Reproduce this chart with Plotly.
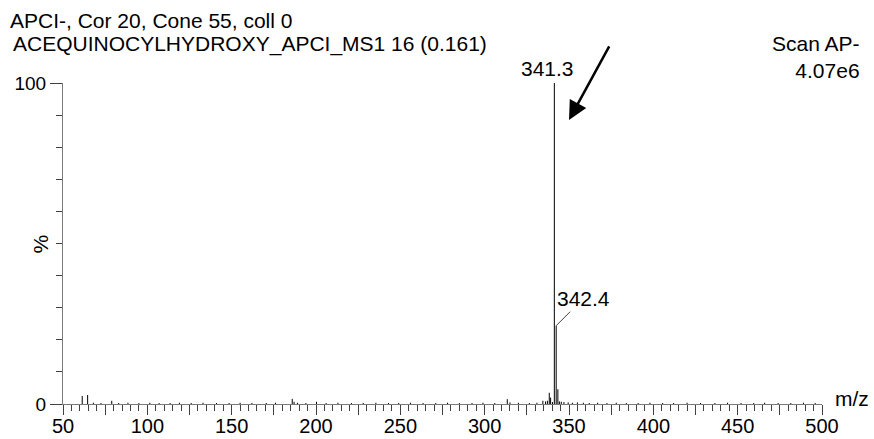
import plotly.graph_objects as go

# Centroided MS1 spectrum (m/z, relative intensity %)
mz = [61.4, 64.6, 68.0, 72.5, 78.9, 83.0, 88.5, 95.0, 101.5, 107.0, 113.5, 119.0,
      126.0, 133.0, 141.0, 148.5, 155.0, 162.0, 170.5, 176.0, 185.9, 187.0, 189.0,
      194.0, 200.3, 206.0, 213.0, 221.0, 228.0, 235.5, 243.0, 249.0, 256.0, 263.5,
      271.0, 278.0, 285.0, 292.5, 299.0, 306.0, 313.4, 315.0, 320.0, 326.5, 331.0,
      334.5, 336.1, 337.2, 338.3, 339.1, 340.2, 341.3, 342.4, 343.4, 344.3, 345.4,
      347.0, 349.5, 352.0, 355.0, 358.5, 362.0, 367.0, 372.5, 378.0, 384.0, 391.0,
      398.0, 405.5, 412.0, 420.0, 428.0, 436.5, 444.0, 452.0, 459.5, 466.0, 474.0,
      481.5, 489.0, 496.0]
intensity = [2.5, 2.8, 0.4, 0.3, 1.0, 0.3, 0.4, 0.3, 0.4, 0.3, 0.3, 0.4,
             0.3, 0.4, 0.3, 0.3, 0.4, 0.3, 0.3, 0.4, 1.6, 0.7, 0.4,
             0.3, 0.7, 0.3, 0.4, 0.3, 0.3, 0.4, 0.3, 0.3, 0.4, 0.3,
             0.3, 0.4, 0.3, 0.3, 0.4, 0.3, 1.5, 0.5, 0.4, 0.3, 0.4,
             1.0, 0.8, 1.0, 3.5, 2.0, 0.6, 100.0, 24.4, 4.6, 0.8, 0.7,
             0.6, 0.5, 0.4, 0.5, 0.4, 0.3, 0.4, 0.3, 0.4, 0.3, 0.3,
             0.4, 0.3, 0.3, 0.4, 0.3, 0.3, 0.4, 0.3, 0.3, 0.4, 0.3,
             0.3, 0.4, 0.3]

labelled_mz = [341.3, 342.4]

x_ticks = list(range(50, 501, 25))
x_ticktext = [str(v) if v % 50 == 0 else "" for v in x_ticks]

FONT = "Liberation Sans, Arial, sans-serif"
TXT = 21

# Build stick segments (one vertical line per centroid)
xs, ys = [], []
for m, h in zip(mz, intensity):
    xs += [m, m, None]
    ys += [0, h, None]

fig = go.Figure()
fig.add_trace(go.Scatter(x=xs, y=ys, mode="lines",
                         line=dict(color="black", width=1),
                         hoverinfo="skip", showlegend=False))

fig.update_layout(
    width=874, height=439,
    margin=dict(l=63, r=52, t=83, b=35, autoexpand=False),
    paper_bgcolor="white", plot_bgcolor="white",
    font=dict(family=FONT, size=TXT, color="black"),
    showlegend=False,
)

fig.update_xaxes(
    range=[50, 500], showgrid=False, zeroline=False, automargin=False,
    showline=True, linecolor="#7a7a7a", linewidth=1,
    tickmode="array", tickvals=x_ticks, ticktext=x_ticktext,
    ticks="outside", ticklen=10, tickwidth=1, tickcolor="#404040",
    minor=dict(tick0=50, dtick=5, ticks="outside", ticklen=6,
               tickwidth=1, tickcolor="#404040", showgrid=False),
    tickfont=dict(size=20, family=FONT),
    ticklabelstandoff=-6,
)
fig.update_yaxes(
    range=[0, 100], showgrid=False, zeroline=False, automargin=False,
    showline=True, linecolor="#7a7a7a", linewidth=1,
    tickmode="array", tickvals=[0, 100], ticktext=["0", "100"],
    ticks="outside", ticklen=12, tickwidth=1, tickcolor="#404040",
    minor=dict(tick0=0, dtick=10, ticks="outside", ticklen=6,
               tickwidth=1, tickcolor="#404040", showgrid=False),
    tickfont=dict(size=19, family=FONT),
)

# Header text
fig.add_annotation(xref="paper", yref="paper", x=-0.072, y=1.195,
                   xanchor="left", yanchor="middle", showarrow=False,
                   text="APCI-, Cor 20, Cone 55, coll 0")
fig.add_annotation(xref="paper", yref="paper", x=-0.069, y=1.123,
                   xanchor="left", yanchor="middle", showarrow=False,
                   text="ACEQUINOCYLHYDROXY_APCI_MS1 16 (0.161)")
fig.add_annotation(xref="paper", yref="paper", x=1.053, y=1.08,
                   xanchor="right", yanchor="middle", align="right",
                   showarrow=False, text="Scan AP-<br>4.07e6")

# Axis titles
fig.add_annotation(xref="paper", yref="paper", x=1.015, y=0.0,
                   xanchor="left", yanchor="middle", yshift=6, showarrow=False,
                   text="m/z")
fig.add_annotation(xref="paper", yref="paper", x=-0.029, y=0.5,
                   xanchor="center", yanchor="middle", showarrow=False,
                   text="%", textangle=-90)

# Peak labels
lab_h = {m: h for m, h in zip(mz, intensity)}
fig.add_annotation(x=labelled_mz[0], y=lab_h[labelled_mz[0]], xref="x", yref="y",
                   xanchor="center", yanchor="bottom", xshift=-7, yshift=1,
                   showarrow=False, text=str(labelled_mz[0]))
fig.add_annotation(x=labelled_mz[1], y=lab_h[labelled_mz[1]], xref="x", yref="y",
                   showarrow=True, arrowhead=0, arrowwidth=1, arrowcolor="#404040",
                   ax=27, ay=-27, text=str(labelled_mz[1]), standoff=0)

# Pointer arrow towards the base peak
fig.add_annotation(xref="paper", yref="paper", x=0.6667, y=0.885,
                   ax=41, ay=-75, showarrow=True, arrowhead=2, arrowsize=1.5,
                   arrowwidth=2.5, arrowcolor="black", text="")

fig.write_html("out.html")
